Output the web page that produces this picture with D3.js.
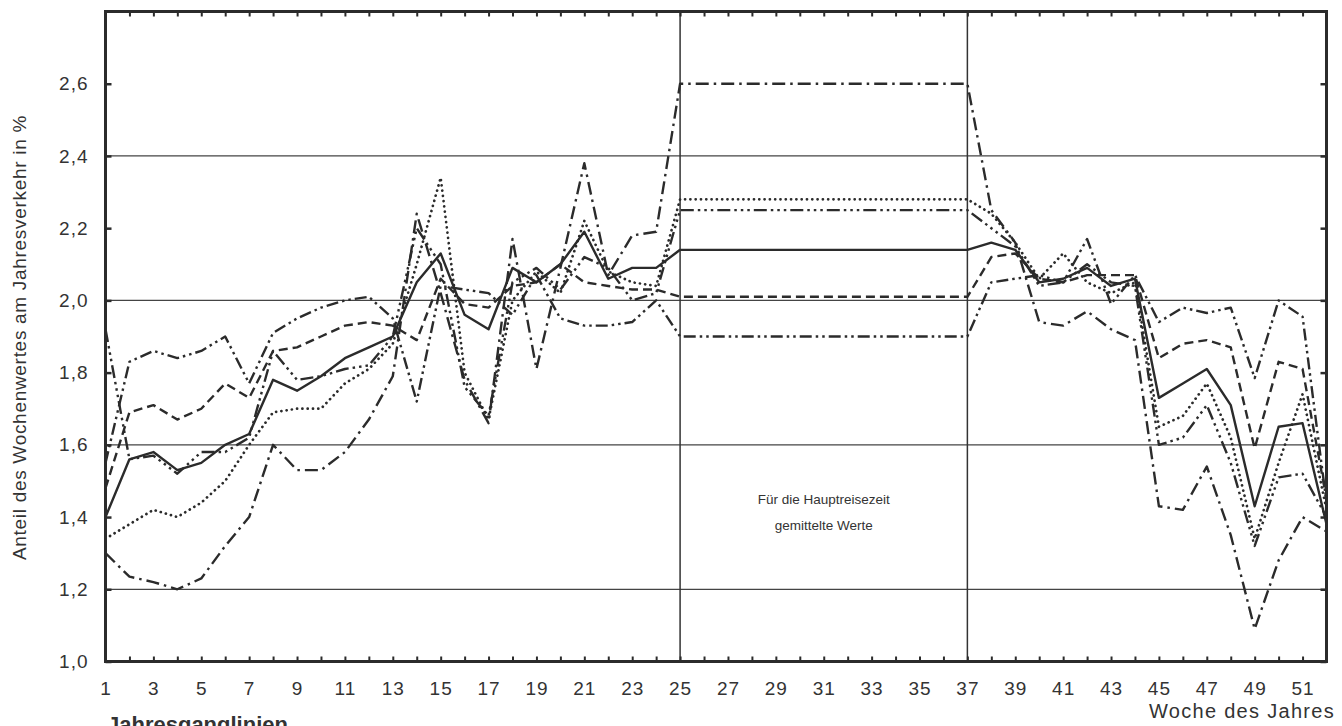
<!DOCTYPE html>
<html><head><meta charset="utf-8">
<script src="https://cdn.jsdelivr.net/npm/d3@7"></script>
<style>
html,body{margin:0;padding:0;background:#fff;}
svg{display:block;}
text{font-family:"Liberation Sans",Arial,Helvetica,sans-serif;fill:#333;}
</style></head>
<body>
<svg id="chart" width="1342" height="726"></svg>
<script>
// ---- data ----
const weeks = [1,2,3,4,5,6,7,8,9,10,11,12,13,14,15,16,17,18,19,20,21,22,23,24,25,26,27,28,29,30,31,32,33,34,35,36,37,38,39,40,41,42,43,44,45,46,47,48,49,50,51,52];
const xTickLabels = [1,3,5,7,9,11,13,15,17,19,21,23,25,27,29,31,33,35,37,39,41,43,45,47,49,51];
const yTickValues = [1.0,1.2,1.4,1.6,1.8,2.0,2.2,2.4,2.6];
const yGridValues = [1.2,1.6,2.0,2.4];
const markerWeeks = [25,37];

const seriesMean = [1.40,1.56,1.58,1.53,1.55,1.60,1.63,1.78,1.75,1.79,1.84,1.87,1.90,2.05,2.13,1.96,1.92,2.09,2.05,2.10,2.19,2.06,2.09,2.09,
  2.14,2.14,2.14,2.14,2.14,2.14,2.14,2.14,2.14,2.14,2.14,2.14,2.14,
  2.16,2.14,2.05,2.06,2.09,2.04,2.06,1.73,1.77,1.81,1.71,1.43,1.65,1.66,1.38];
const seriesDotted = [1.34,1.38,1.42,1.40,1.44,1.50,1.60,1.69,1.70,1.70,1.77,1.81,1.88,2.10,2.34,1.80,1.67,2.00,2.08,2.02,2.22,2.08,2.05,2.04,
  2.28,2.28,2.28,2.28,2.28,2.28,2.28,2.28,2.28,2.28,2.28,2.28,2.28,
  2.24,2.16,2.06,2.13,2.05,2.02,2.05,1.65,1.68,1.77,1.62,1.34,1.55,1.74,1.42];
const seriesDashed = [1.48,1.69,1.71,1.67,1.70,1.77,1.73,1.86,1.87,1.90,1.93,1.94,1.93,1.89,2.06,1.99,1.98,2.04,2.05,2.10,2.05,2.04,2.03,2.03,
  2.01,2.01,2.01,2.01,2.01,2.01,2.01,2.01,2.01,2.01,2.01,2.01,2.01,
  2.12,2.13,2.06,2.05,2.07,2.07,2.07,1.84,1.88,1.89,1.87,1.59,1.83,1.81,1.45];
const seriesDashDot = [1.30,1.235,1.22,1.20,1.23,1.32,1.40,1.60,1.53,1.53,1.58,1.67,1.79,2.24,2.02,1.78,1.66,2.17,1.81,2.09,2.38,2.07,2.18,2.19,
  2.60,2.60,2.60,2.60,2.60,2.60,2.60,2.60,2.60,2.60,2.60,2.60,2.60,
  2.25,2.16,1.94,1.93,1.97,1.92,1.89,1.43,1.42,1.54,1.35,1.09,1.28,1.40,1.36];
const seriesDash3Dot = [1.92,1.56,1.57,1.52,1.58,1.58,1.62,1.86,1.78,1.79,1.81,1.82,1.90,2.20,2.10,1.76,1.68,2.05,2.09,2.03,2.12,2.09,2.00,2.02,
  2.25,2.25,2.25,2.25,2.25,2.25,2.25,2.25,2.25,2.25,2.25,2.25,2.25,
  2.20,2.15,2.04,2.05,2.10,2.05,2.04,1.60,1.62,1.71,1.55,1.32,1.51,1.52,1.40];
const seriesDashDotDot = [1.55,1.83,1.86,1.84,1.86,1.90,1.77,1.91,1.95,1.98,2.00,2.01,1.95,1.72,2.04,2.03,2.02,1.96,2.07,1.95,1.93,1.93,1.94,2.00,
  1.90,1.90,1.90,1.90,1.90,1.90,1.90,1.90,1.90,1.90,1.90,1.90,1.90,
  2.05,2.06,2.07,2.05,2.17,1.99,2.07,1.94,1.98,1.965,1.98,1.785,2.00,1.955,1.44];

const seriesList = [
  {values: seriesDashDot,    dash: "13,5,2.5,5"},
  {values: seriesDashDotDot, dash: "12,4,2.5,4,2.5,4"},
  {values: seriesDash3Dot,   dash: "13,4,2.5,4,2.5,4,2.5,4"},
  {values: seriesDashed,     dash: "9,5"},
  {values: seriesDotted,     dash: "0.1,5.2", cap: "round"},
  {values: seriesMean,       dash: null}
];

// ---- layout ----
const svg = d3.select("#chart");
const x = d3.scaleLinear().domain([1,52]).range([105.5,1326.5]);
const y = d3.scaleLinear().domain([1.0,2.8]).range([661.5,11.5]);
const ink = "#2b2b2b";

// gridlines
svg.append("g").selectAll("line").data(yGridValues).join("line")
  .attr("x1", x(1)).attr("x2", x(52))
  .attr("y1", d => y(d)).attr("y2", d => y(d))
  .attr("stroke", "#444").attr("stroke-width", 1.3);

// vertical markers
svg.append("g").selectAll("line").data(markerWeeks).join("line")
  .attr("x1", d => x(d)).attr("x2", d => x(d))
  .attr("y1", y(1.0)).attr("y2", y(2.8))
  .attr("stroke", "#333").attr("stroke-width", 1.5);

// series
const line = d3.line().x((d,i) => x(weeks[i])).y(d => y(d));
svg.append("defs").append("clipPath").attr("id","plotclip")
  .append("rect").attr("x", x(1)).attr("y", y(2.8)).attr("width", x(52)-x(1)).attr("height", y(1.0)-y(2.8));
const gLines = svg.append("g").attr("clip-path","url(#plotclip)");
seriesList.forEach(s => {
  gLines.append("path").datum(s.values)
    .attr("d", line)
    .attr("fill","none")
    .attr("stroke", ink)
    .attr("stroke-width", s.cap ? 2.7 : 2.4)
    .attr("stroke-linejoin","round")
    .attr("stroke-linecap", s.cap || "butt")
    .attr("stroke-dasharray", s.dash);
});

// inward ticks: bottom and top
svg.append("g").attr("transform",`translate(0,${y(1.0)})`)
  .call(d3.axisBottom(x).tickValues(weeks).tickSize(-5).tickFormat(""))
  .call(g => g.select(".domain").remove())
  .call(g => g.selectAll("line").attr("stroke", ink).attr("stroke-width",2));
svg.append("g").attr("transform",`translate(0,${y(2.8)})`)
  .call(d3.axisTop(x).tickValues(weeks).tickSize(-5).tickFormat(""))
  .call(g => g.select(".domain").remove())
  .call(g => g.selectAll("line").attr("stroke", ink).attr("stroke-width",2));
// left and right ticks
svg.append("g").attr("transform",`translate(${x(1)},0)`)
  .call(d3.axisLeft(y).tickValues(yTickValues).tickSize(-6).tickFormat(""))
  .call(g => g.select(".domain").remove())
  .call(g => g.selectAll("line").attr("stroke", ink).attr("stroke-width",2.5));
svg.append("g").attr("transform",`translate(${x(52)},0)`)
  .call(d3.axisRight(y).tickValues(yTickValues).tickSize(-6).tickFormat(""))
  .call(g => g.select(".domain").remove())
  .call(g => g.selectAll("line").attr("stroke", ink).attr("stroke-width",2.5));

// frame
svg.append("rect")
  .attr("x", x(1)).attr("y", y(2.8))
  .attr("width", x(52)-x(1)).attr("height", y(1.0)-y(2.8))
  .attr("fill","none").attr("stroke", ink).attr("stroke-width", 3);

// y tick labels
svg.append("g").attr("transform",`translate(${x(1)},0)`)
  .call(d3.axisLeft(y).tickValues(yTickValues).tickSize(0).tickPadding(17)
        .tickFormat(d => d.toFixed(1).replace(".", ",")))
  .call(g => g.select(".domain").remove())
  .call(g => g.selectAll("text").attr("font-size", 19).attr("fill","#3a3a3a")
        .style("font-family",'"Liberation Sans",Arial,sans-serif').style("letter-spacing","1px"));

// x tick labels
svg.append("g").attr("transform",`translate(0,${y(1.0)})`)
  .call(d3.axisBottom(x).tickValues(xTickLabels).tickSize(0).tickPadding(20).tickFormat(d => String(d)))
  .call(g => g.select(".domain").remove())
  .call(g => g.selectAll("text").attr("font-size", 19).attr("fill","#3a3a3a")
        .style("font-family",'"Liberation Sans",Arial,sans-serif').style("letter-spacing","1px"));

// axis titles
svg.append("text")
  .attr("x", 1335).attr("y", 718).attr("text-anchor","end")
  .attr("font-size", 20).attr("fill","#3a3a3a").style("letter-spacing","1.3px")
  .text("Woche des Jahres");
svg.append("text")
  .attr("transform", `translate(26,${(y(1.0)+y(2.8))/2 + 1}) rotate(-90)`)
  .attr("text-anchor","middle").attr("fill","#3a3a3a")
  .attr("font-size", 19).style("letter-spacing","0.7px")
  .text("Anteil des Wochenwertes am Jahresverkehr in %");
svg.append("text")
  .attr("x", 107).attr("y", 732)
  .attr("font-size", 22).attr("font-weight","bold").attr("fill","#111")
  .text("Jahresganglinien");

// annotation
const midX = (x(25)+x(37))/2;
svg.append("text").attr("x", midX).attr("y", 504).attr("text-anchor","middle")
  .attr("font-size", 13.5).attr("fill","#333").text("Für die Hauptreisezeit");
svg.append("text").attr("x", midX).attr("y", 530).attr("text-anchor","middle")
  .attr("font-size", 13.5).attr("fill","#333").text("gemittelte Werte");
</script>
</body></html>
